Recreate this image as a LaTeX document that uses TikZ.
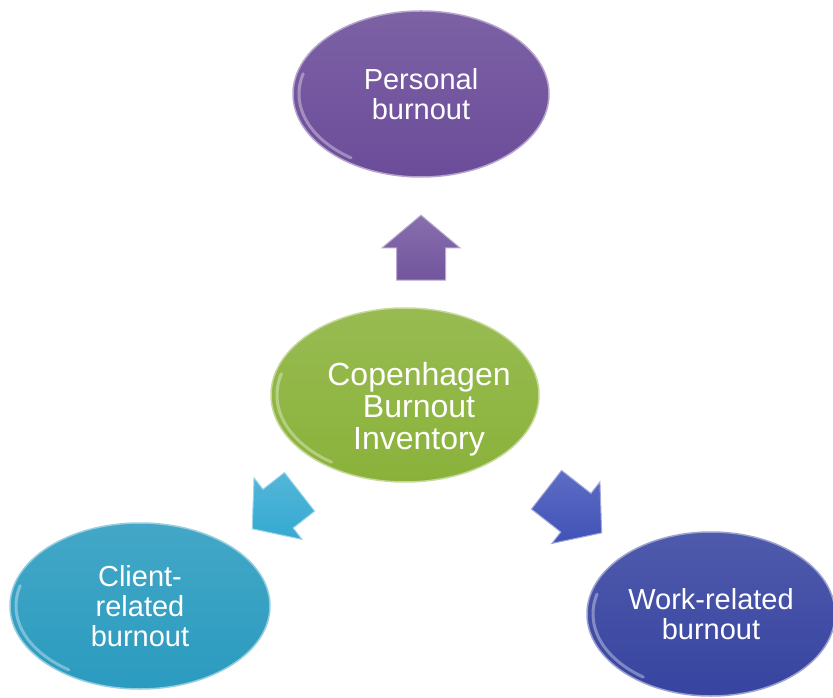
\documentclass[tikz,border=0pt]{standalone}
\usepackage{fontspec}
\setmainfont{Liberation Sans}
\usetikzlibrary{calc, shapes, positioning}

\definecolor{cbigreen}{HTML}{8AB23A}
\definecolor{perspurple}{HTML}{6B4C99}
\definecolor{clientcyan}{HTML}{2A9BBF}
\definecolor{workblue}{HTML}{3744A0}
\definecolor{arrowblue}{HTML}{4152B8}
\definecolor{arrowcyan}{HTML}{35A9D2}

\begin{document}
\begin{tikzpicture}
[
    x = 1pt, y = 1pt,
    every node/.style = {align=center, text=white, font=\fontsize{29}{30}\selectfont},
    BubbleStyle/.style = {shape = ellipse, inner sep = 0pt, line width = 1.5pt,
                          top color = #1!88!white, bottom color = #1,
                          draw = #1!50!white},
    ArrowStyle/.style = {shape = single arrow, inner xsep = 0pt, inner ysep = 24pt,
                         line width = 1pt,
                         minimum height = 65pt, minimum width = 77pt,
                         single arrow head extend = 14.5pt,
                         single arrow tip angle = 100,
                         top color = #1!85!white, bottom color = #1,
                         draw = #1!50!white},
    RimStyle/.style = {draw = white, opacity = 0.35, line width = 3pt, line cap = round}
  ]
  \useasboundingbox (0,0) rectangle (833,697);

  % ellipses
  \node[BubbleStyle=cbigreen, minimum width = 268pt, minimum height = 174pt,
        label = {[xshift=14pt, yshift=-14pt, font=\fontsize{32}{32}\selectfont]center:{Copenhagen\\Burnout\\Inventory}}] (cbi) at (405,302) {};
  \node[BubbleStyle=perspurple, minimum width = 256pt, minimum height = 166pt] (pers) at (421,603) {Personal\\burnout};
  \node[BubbleStyle=clientcyan, minimum width = 260pt, minimum height = 166pt] (client) at (140,91) {Client-\\related\\burnout};
  \node[BubbleStyle=workblue, minimum width = 248pt, minimum height = 164pt] (work) at (711,83) {Work-related\\burnout};

  % glossy rims
  \draw[RimStyle] ($(cbi.center)+(165:128 and 82)$) arc[start angle=165, end angle=235, x radius=128, y radius=82];
  \draw[RimStyle] ($(pers.center)+(165:122 and 78)$) arc[start angle=165, end angle=235, x radius=122, y radius=78];
  \draw[RimStyle] ($(client.center)+(165:124 and 78)$) arc[start angle=165, end angle=235, x radius=124, y radius=78];
  \draw[RimStyle] ($(work.center)+(165:118 and 77)$) arc[start angle=165, end angle=235, x radius=118, y radius=77];

  % arrows
  \node[ArrowStyle=perspurple!95!white, rotate = 90] (up) at (421,439) {};
  \node[ArrowStyle=arrowcyan, rotate = 218, minimum height = 60pt] (left) at (284,193) {};
  \node[ArrowStyle=arrowblue, rotate = -38, minimum height = 70pt] (right) at (566,192) {};
\end{tikzpicture}
\end{document}
